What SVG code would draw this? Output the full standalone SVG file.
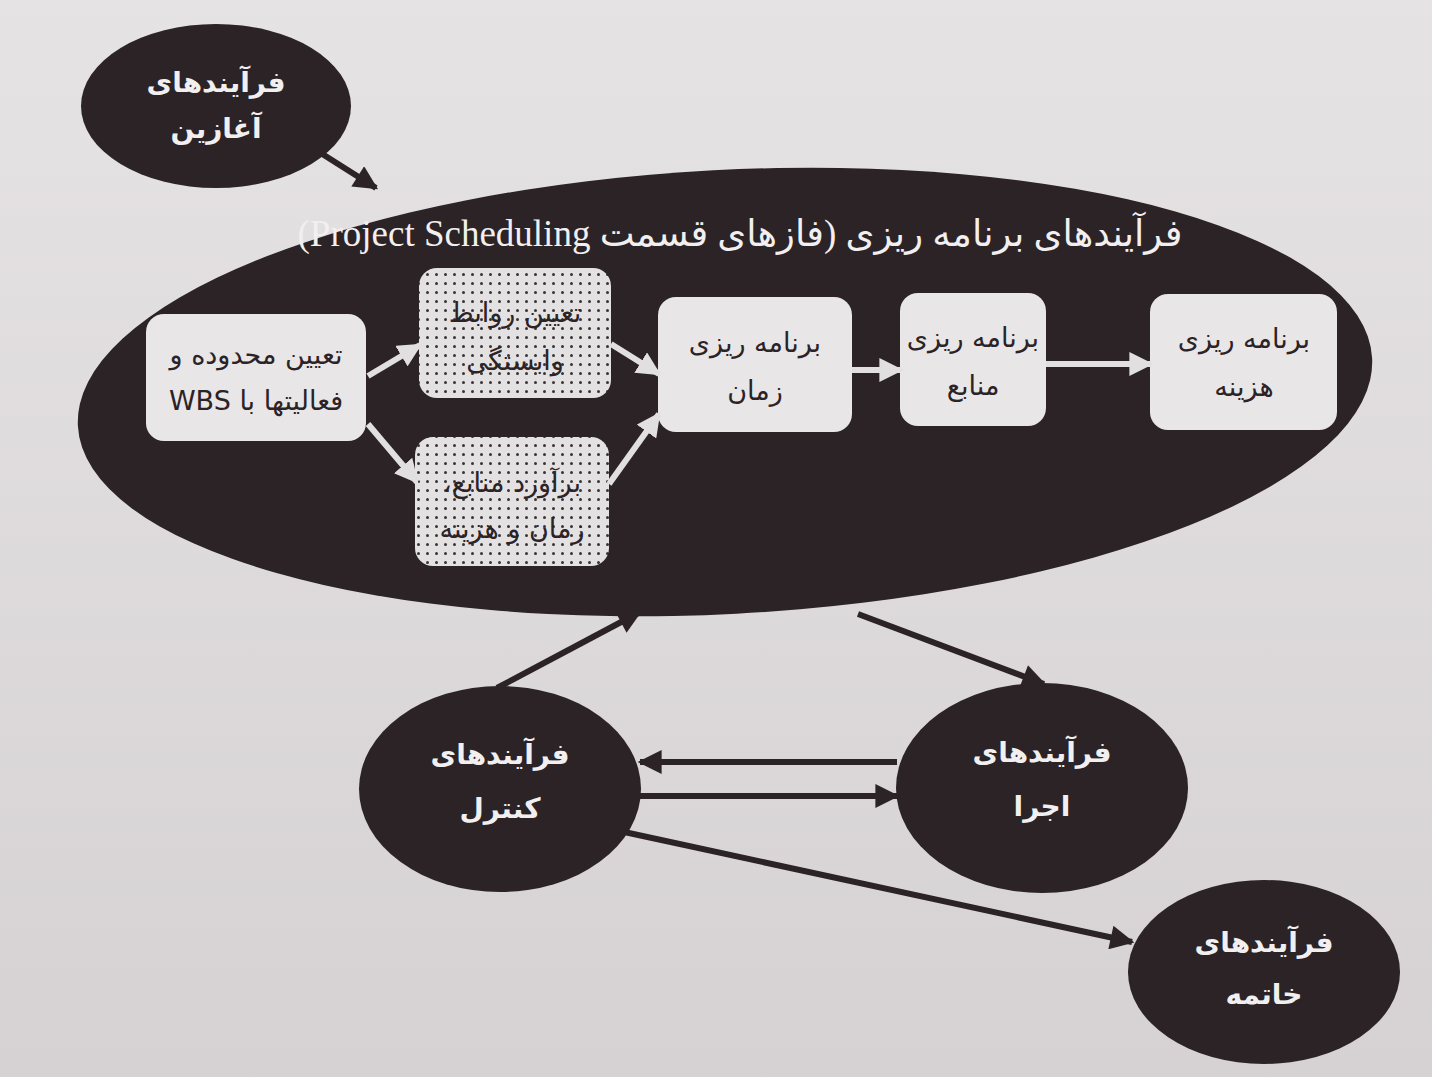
<svg xmlns="http://www.w3.org/2000/svg" width="1432" height="1077" viewBox="0 0 1432 1077">
<defs>
<linearGradient id="bg" x1="0" y1="0" x2="0" y2="1">
<stop offset="0" stop-color="#e6e3e5"/>
<stop offset="1" stop-color="#d6d2d4"/>
</linearGradient>
<pattern id="dots" width="9" height="9" patternUnits="userSpaceOnUse">
<rect width="9" height="9" fill="#e4e1e3"/>
<circle cx="4.5" cy="4.5" r="1.5" fill="#3a3335"/>
</pattern>
<marker id="dk" viewBox="0 0 10 10" refX="9" refY="5" markerWidth="4.5" markerHeight="4" orient="auto" markerUnits="strokeWidth">
<path d="M0,0 L10,5 L0,10 Z" fill="#2b2325"/>
</marker>
<marker id="lt" viewBox="0 0 10 10" refX="9" refY="5" markerWidth="4" markerHeight="4" orient="auto" markerUnits="strokeWidth">
<path d="M0,0 L10,5 L0,10 Z" fill="#e2dfe1"/>
</marker>
</defs>
<style>
.dark{fill:#2b2325}
.box{fill:#e9e6e8}
.dot{fill:url(#dots)}
.wt{fill:#f2eff1;font-family:"DejaVu Sans",sans-serif;font-size:28px;font-weight:bold;text-anchor:middle}
.bt{fill:#2b2325;font-family:"DejaVu Sans",sans-serif;font-size:27px;text-anchor:middle}
.title{fill:#f2eff1;font-family:"Liberation Serif","DejaVu Sans",serif;font-size:37px;text-anchor:middle}
.dc{stroke:#2b2325;stroke-width:6;fill:none;marker-end:url(#dk)}
.lc{stroke:#e2dfe1;stroke-width:6;fill:none;marker-end:url(#lt)}
</style>
<rect width="1432" height="1077" fill="url(#bg)"/>

<g id="planning">
<ellipse class="dark" cx="725" cy="392" rx="648" ry="222" transform="rotate(-3 725 392)"/>
<text class="title" x="740" y="246" direction="rtl">فرآیندهای برنامه ریزی (فازهای قسمت Project Scheduling)</text>
</g>

<g id="initiating">
<ellipse class="dark" cx="216" cy="106" rx="135" ry="82"/>
<text class="wt" x="216" y="92" direction="rtl">فرآیندهای</text>
<text class="wt" x="216" y="138" direction="rtl">آغازین</text>
</g>

<g id="scope">
<rect class="box" x="146" y="314" width="220" height="127" rx="18"/>
<text class="bt" x="256" y="364" direction="rtl">تعیین محدوده و</text>
<text class="bt" x="256" y="410" direction="rtl">فعالیتها با WBS</text>
</g>

<g id="dependency">
<rect class="dot" x="419" y="268" width="192" height="130" rx="18"/>
<text class="bt" x="515" y="322" direction="rtl">تعیین روابط</text>
<text class="bt" x="515" y="370" direction="rtl">وابستگی</text>
</g>

<g id="estimate">
<rect class="dot" x="415" y="437" width="194" height="129" rx="18"/>
<text class="bt" x="512" y="492" direction="rtl">برآورد منابع،</text>
<text class="bt" x="512" y="538" direction="rtl">زمان و هزینه</text>
</g>

<g id="time">
<rect class="box" x="658" y="297" width="194" height="135" rx="18"/>
<text class="bt" x="755" y="352" direction="rtl">برنامه ریزی</text>
<text class="bt" x="755" y="400" direction="rtl">زمان</text>
</g>

<g id="resource">
<rect class="box" x="900" y="293" width="146" height="133" rx="18"/>
<text class="bt" x="973" y="347" direction="rtl">برنامه ریزی</text>
<text class="bt" x="973" y="395" direction="rtl">منابع</text>
</g>

<g id="cost">
<rect class="box" x="1150" y="294" width="187" height="136" rx="18"/>
<text class="bt" x="1244" y="348" direction="rtl">برنامه ریزی</text>
<text class="bt" x="1244" y="396" direction="rtl">هزینه</text>
</g>

<g id="control">
<ellipse class="dark" cx="500" cy="789" rx="141" ry="103"/>
<text class="wt" x="500" y="764" direction="rtl">فرآیندهای</text>
<text class="wt" x="500" y="818" direction="rtl">کنترل</text>
</g>

<g id="execution">
<ellipse class="dark" cx="1042" cy="788" rx="146" ry="105"/>
<text class="wt" x="1042" y="762" direction="rtl">فرآیندهای</text>
<text class="wt" x="1042" y="816" direction="rtl">اجرا</text>
</g>

<g id="closing">
<ellipse class="dark" cx="1264" cy="972" rx="136" ry="92"/>
<text class="wt" x="1264" y="952" direction="rtl">فرآیندهای</text>
<text class="wt" x="1264" y="1004" direction="rtl">خاتمه</text>
</g>

<g id="connectors">
<line class="dc" x1="316" y1="150" x2="376" y2="188"/>
<line class="dc" x1="497" y1="688" x2="640" y2="612"/>
<line class="dc" x1="858" y1="614" x2="1044" y2="684"/>
<line class="dc" x1="897" y1="762" x2="640" y2="762"/>
<line class="dc" x1="640" y1="796" x2="897" y2="796"/>
<line class="dc" x1="615" y1="830" x2="1132" y2="942"/>
<line class="lc" x1="368" y1="376" x2="420" y2="345"/>
<line class="lc" x1="368" y1="424" x2="417" y2="482"/>
<line class="lc" x1="611" y1="344" x2="659" y2="374"/>
<line class="lc" x1="609" y1="484" x2="659" y2="414"/>
<line class="lc" x1="852" y1="370" x2="901" y2="370"/>
<line class="lc" x1="1046" y1="364" x2="1151" y2="364"/>
</g>
</svg>
